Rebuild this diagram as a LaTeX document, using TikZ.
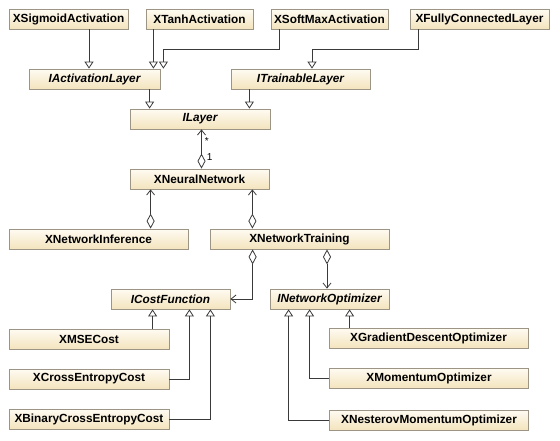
\documentclass[tikz,border=0pt]{standalone}
\usepackage{fontspec}
\setmainfont{Liberation Sans}
\usetikzlibrary{arrows.meta,calc,positioning}
\definecolor{boxtop}{HTML}{FEFBF2}
\definecolor{boxbot}{HTML}{F4E4BE}
\definecolor{boxline}{HTML}{9C9484}
\definecolor{wire}{HTML}{3A3A3A}

\begin{document}
\begin{tikzpicture}[x=1pt, y=-1pt,
cls/.style = {minimum width=#1, minimum height=20pt, inner sep=1pt,
              draw=boxline, line width=0.8pt,
              top color=boxtop, bottom color=boxbot,
              font=\fontsize{11.8}{13}\selectfont\bfseries},
ifc/.style = {cls=#1, font=\fontsize{11.8}{13}\selectfont\bfseries\itshape},
Gen/.style = {draw=wire, line width=0.8pt,
              -{Triangle[open,length=7pt,width=9pt]}},
Agg/.style = {draw=wire, line width=0.8pt,
              {Diamond[open,length=15pt,width=8pt]}-{Straight Barb[length=5pt,width=8pt]}},
mult/.style = {font=\fontsize{10}{12}\selectfont, inner sep=0pt},
                    ]
\useasboundingbox (0,0) rectangle (560,440);
\node[cls=119pt]    (sig)   at (68.5,19)  {XSigmoidActivation};
\node[cls=107pt]    (tanh)  at (199.5,19) {XTanhActivation};
\node[cls=117pt]    (smax)  at (329.5,19) {XSoftMaxActivation};
\node[cls=139pt]    (fcl)   at (479.5,19) {XFullyConnectedLayer};
\node[ifc=131pt]    (actl)  at (94.5,79)  {IActivationLayer};
\node[ifc=139pt]    (trnl)  at (300.5,79) {ITrainableLayer};
\node[ifc=140pt]    (layer) at (200,119)  {ILayer};
\node[cls=139pt]    (nnet)  at (199.5,179) {XNeuralNetwork};
\node[cls=179pt]    (infer) at (98.5,239) {XNetworkInference};
\node[cls=179pt]    (train) at (299.5,239) {XNetworkTraining};
\node[ifc=119pt]    (cost)  at (170.5,299) {ICostFunction};
\node[ifc=119pt]    (optim) at (329.5,299) {INetworkOptimizer};
\node[cls=160pt]    (mse)   at (89,339)   {XMSECost};
\node[cls=160pt]    (xent)  at (89,379)   {XCrossEntropyCost};
\node[cls=160pt]    (bxent) at (89,419)   {XBinaryCrossEntropyCost};
\node[cls=199pt]    (gdo)   at (428.5,338) {XGradientDescentOptimizer};
\node[cls=199pt]    (mom)   at (429,378)  {XMomentumOptimizer};
\node[cls=199pt]    (nest)  at (429,420)  {XNesterovMomentumOptimizer};

\draw[Gen]  ([xshift=20.5pt]sig.south) -- ([xshift=20.5pt]sig.south |- actl.north);
\draw[Gen]  ([xshift=-7pt]actl.north east |- tanh.south) -- ([xshift=-7pt]actl.north east);
\draw[Gen]  ([xshift=9pt]smax.south west) -- ++(0,20) -| ([xshift=3pt]actl.north east);
\draw[Gen]  ([xshift=9pt]fcl.south west) -- ++(0,20) -| ([xshift=11.5pt]trnl.north);
\draw[Gen]  ([xshift=20pt]layer.north west |- actl.south) -- ([xshift=20pt]layer.north west);
\draw[Gen]  ([xshift=-21pt]layer.north east |- trnl.south) -- ([xshift=-21pt]layer.north east);
\draw[Agg]  ([xshift=2pt]nnet.north) -- ([xshift=2pt]nnet.north |- layer.south)
            node[mult, pos=0.3, right=5pt]  (one)  {1}
            node[mult, pos=0.7, right=3pt]  (many) {*};
\draw[Agg]  ([xshift=21pt]nnet.south west |- infer.north) -- ([xshift=21pt]nnet.south west);
\draw[Agg]  ([xshift=-17pt]nnet.south east |- train.north) -- ([xshift=-17pt]nnet.south east);
\draw[Agg]  ([xshift=43pt]train.south west) |- (cost.east);
\draw[Agg]  ([xshift=-2.5pt]optim.north |- train.south) -- ([xshift=-2.5pt]optim.north);
\draw[Gen]  ([xshift=42pt]cost.south west |- mse.north) -- ([xshift=42pt]cost.south west);
\draw[Gen]  (xent.east) -| ([xshift=-41pt]cost.south east);
\draw[Gen]  (bxent.east) -| ([xshift=-20pt]cost.south east);
\draw[Gen]  ([xshift=80pt]optim.south west |- gdo.north) -- ([xshift=80pt]optim.south west);
\draw[Gen]  (mom.west) -| ([xshift=40pt]optim.south west);
\draw[Gen]  (nest.west) -| ([xshift=19pt]optim.south west);
\end{tikzpicture}
\end{document}
